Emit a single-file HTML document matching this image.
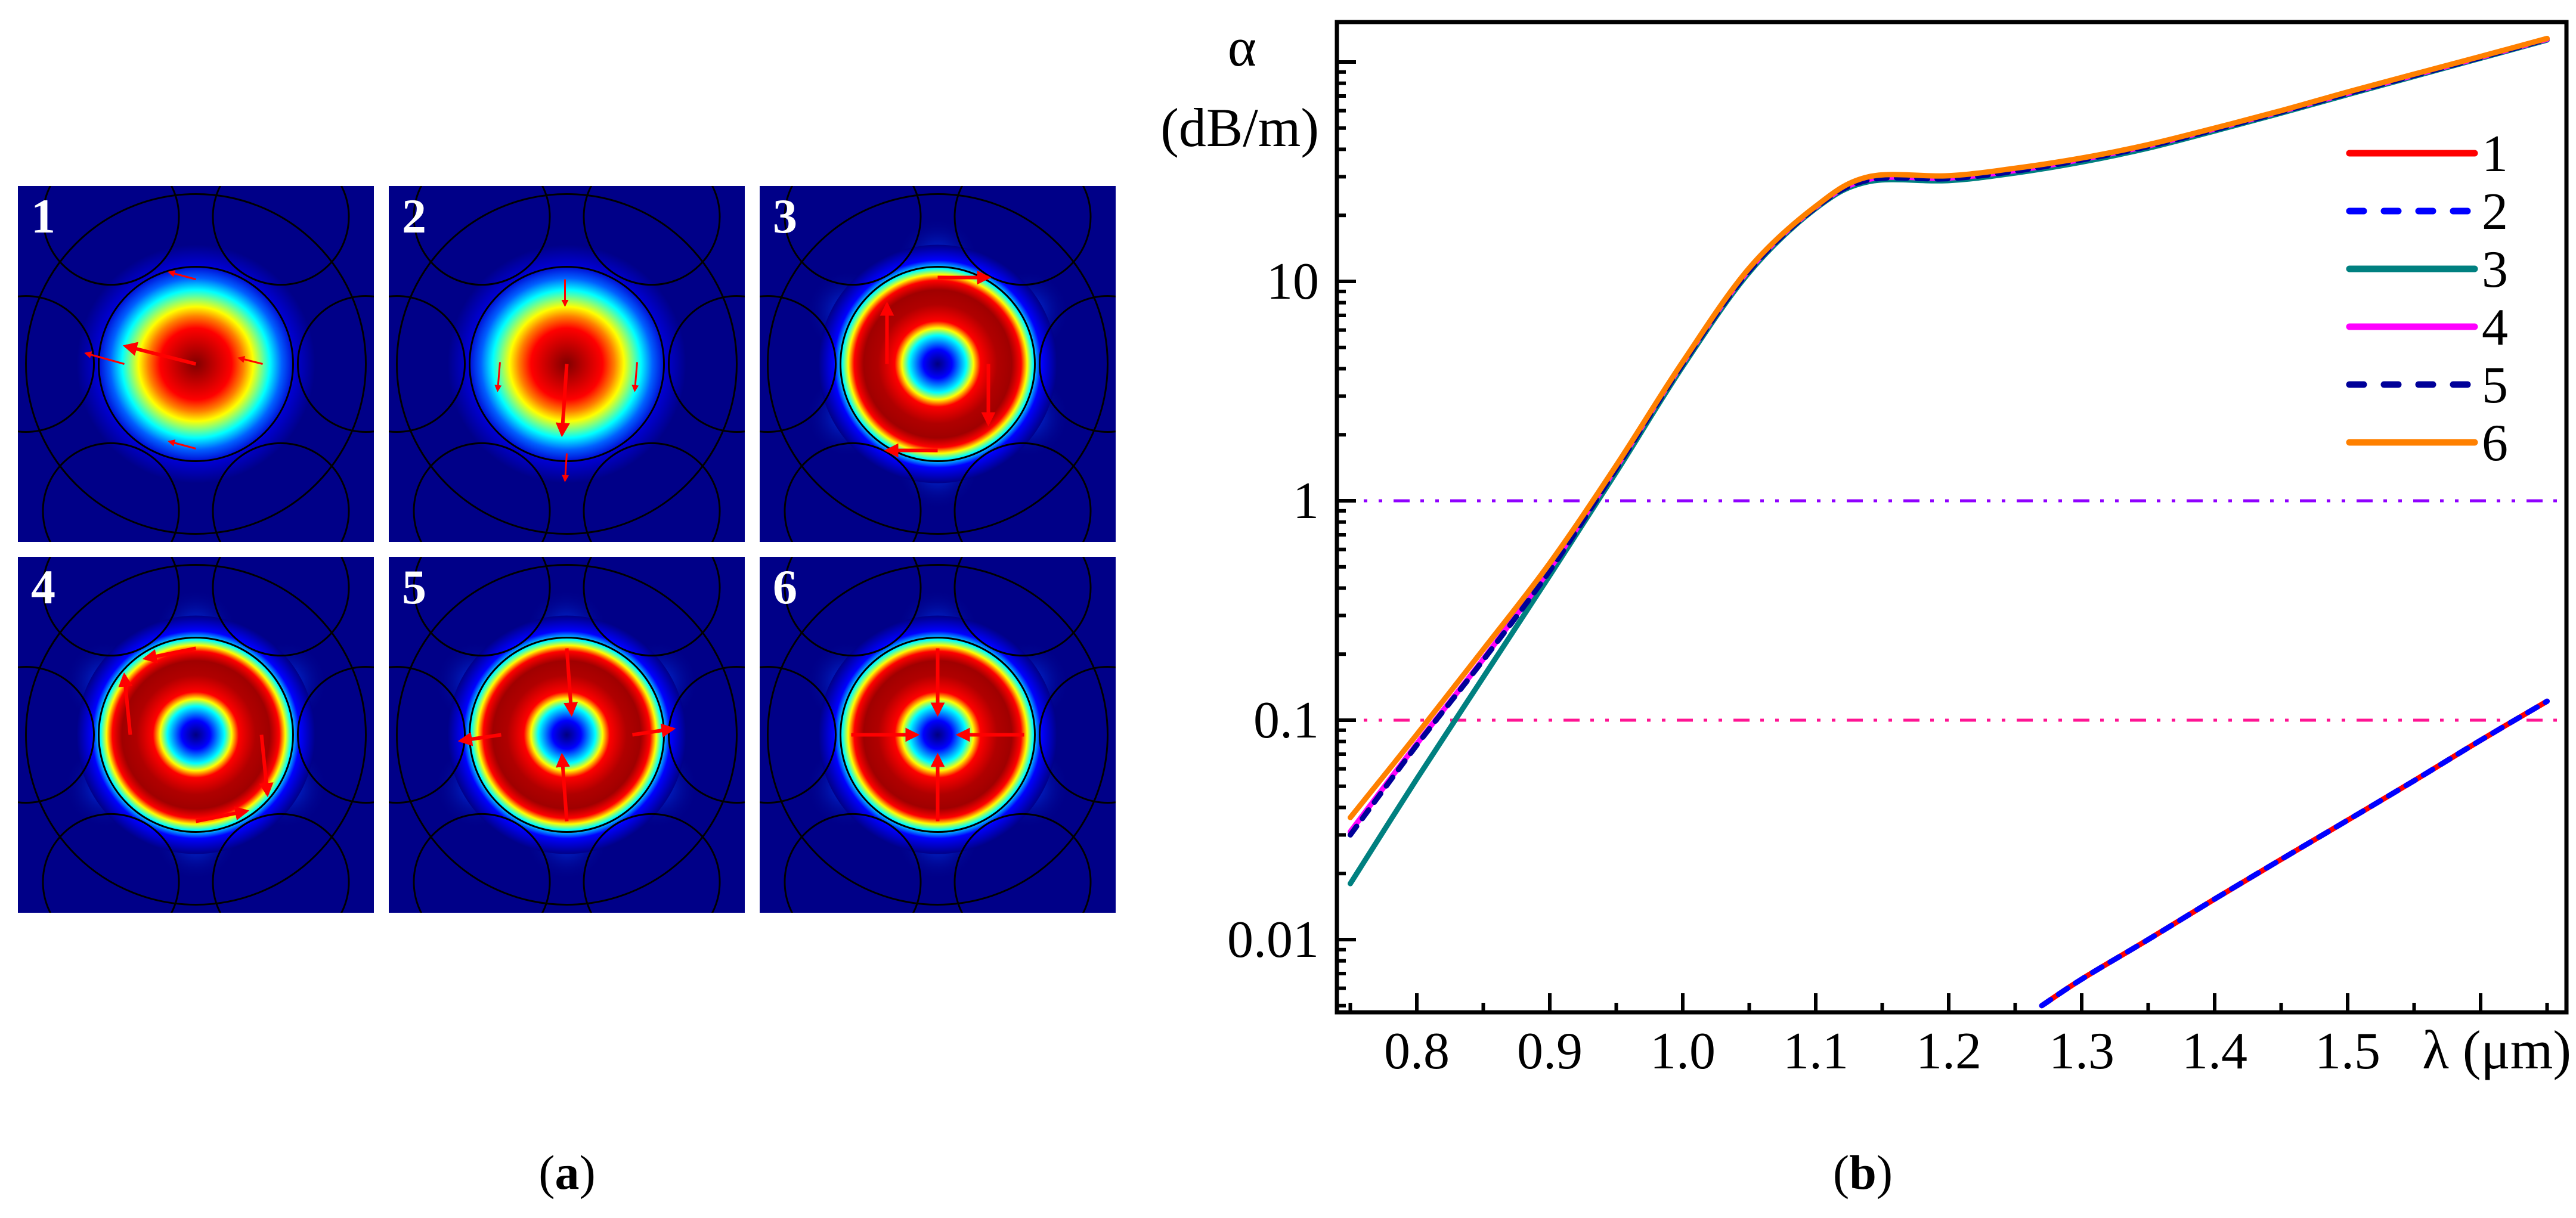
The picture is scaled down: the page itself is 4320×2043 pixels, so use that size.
<!DOCTYPE html>
<html><head><meta charset="utf-8">
<style>
html,body{margin:0;padding:0;background:#fff;}
svg{display:block;}
svg text{font-family:"Liberation Serif","Times New Roman",serif !important;}
</style></head>
<body>
<svg id="fig" width="4320" height="2043" viewBox="0 0 4320 2043" xmlns="http://www.w3.org/2000/svg">
<defs>
  <radialGradient id="gFund" cx="0.5" cy="0.5" r="0.5">
    <stop offset="0" stop-color="#800000"/>
    <stop offset="0.15" stop-color="#c00000"/>
    <stop offset="0.3" stop-color="#ff0000"/>
    <stop offset="0.4" stop-color="#ff8000"/>
    <stop offset="0.48" stop-color="#ffff00"/>
    <stop offset="0.55" stop-color="#80ff80"/>
    <stop offset="0.62" stop-color="#00ffff"/>
    <stop offset="0.72" stop-color="#0060ff"/>
    <stop offset="0.83" stop-color="#0000d0"/>
    <stop offset="1" stop-color="#000088"/>
  </radialGradient>
  <radialGradient id="gRing" cx="0.5" cy="0.5" r="0.5">
    <stop offset="0" stop-color="#000080"/>
    <stop offset="0.12" stop-color="#0000ff"/>
    <stop offset="0.24" stop-color="#00ffff"/>
    <stop offset="0.3" stop-color="#ffff00"/>
    <stop offset="0.36" stop-color="#ff0000"/>
    <stop offset="0.5" stop-color="#b00000"/>
    <stop offset="0.62" stop-color="#a00000"/>
    <stop offset="0.7" stop-color="#ff0000"/>
    <stop offset="0.75" stop-color="#ffff00"/>
    <stop offset="0.8" stop-color="#00ffff"/>
    <stop offset="0.87" stop-color="#0000ff"/>
    <stop offset="1" stop-color="#000088"/>
  </radialGradient>
  <radialGradient id="gLobe" cx="0.5" cy="0.5" r="0.5">
    <stop offset="0" stop-color="#0040ff" stop-opacity="0.9"/>
    <stop offset="1" stop-color="#000088" stop-opacity="0"/>
  </radialGradient>
  <marker id="ah" viewBox="0 0 10 10" refX="8" refY="5" markerWidth="4" markerHeight="4" orient="auto">
    <path d="M0,0 L10,5 L0,10 z" fill="#ff0000"/>
  </marker>
</defs>
<g id="panelsA"></g>
<g id="chartB"></g>
<text x="951" y="1994" font-size="82" text-anchor="middle">(<tspan font-weight="bold">a</tspan>)</text>
<text x="3124" y="1994" font-size="82" text-anchor="middle">(<tspan font-weight="bold">b</tspan>)</text>
</svg>
<script>
var NS="http://www.w3.org/2000/svg";
function mk(tag,attrs,parent){var e=document.createElementNS(NS,tag);for(var k in attrs)e.setAttribute(k,attrs[k]);if(tag==='text'){e.setAttribute('font-family','Liberation Serif, serif');e.style.fontFamily='"Liberation Serif", serif';}parent.appendChild(e);return e;}

/* ---------- Panel (a): mode field maps ---------- */
var panelModes=[1,2,3,4,5,6];
var panelX=[30,652,1274];
var panelY=[312,934];
var P=597;
var arrowsByMode={
 1:[[0,0,-118,-30,1],[-120,0,-185,-18,0],[112,0,72,-10,0],[0,-142,-45,-154,0],[0,142,-45,130,0]],
 2:[[0,0,-8,118,1],[-3,-142,-3,-98,0],[0,150,-3,196,0],[-112,-3,-116,45,0],[118,-3,114,45,0]],
 3:[[0,-145,85,-145,1],[85,0,85,100,1],[0,145,-85,145,1],[-85,0,-85,-100,1]],
 4:[[0,-145,-85,-128,1],[-110,0,-120,-100,1],[110,0,120,100,1],[0,145,85,128,1]],
 5:[[0,-145,8,-35,1],[0,145,-8,35,1],[-110,0,-178,10,1],[110,0,178,-10,1]],
 6:[[0,-145,0,-35,1],[0,145,0,35,1],[-145,0,-35,0,1],[145,0,35,0,1]]
};
var pa=document.getElementById('panelsA');
panelModes.forEach(function(m,i){
  var px=panelX[i%3], py=panelY[Math.floor(i/3)];
  var cx=px+P/2, cy=py+P/2;
  var g=mk('g',{},pa);
  
  
  var cp=mk('clipPath',{id:'clip'+m},g);
  mk('rect',{x:px,y:py,width:P,height:P},cp);
  var inner=mk('g',{'clip-path':'url(#clip'+m+')'},g);
  mk('rect',{x:px,y:py,width:P,height:P,fill:'#000088'},inner);
  if(m>=3){
    [30,90,150,210,270,330].forEach(function(a){
      var r=a*Math.PI/180;
      mk('ellipse',{cx:cx+175*Math.cos(r),cy:cy+175*Math.sin(r),rx:70,ry:70,fill:'url(#gLobe)'},inner);
    });
  }
  var field=mk('circle',{cx:cx,cy:cy,r:200,fill:m<3?'url(#gFund)':'url(#gRing)'},inner);
  
  
  for(var k=0;k<6;k++){
    var a=k*Math.PI/3;
    mk('circle',{cx:cx+285*Math.cos(a),cy:cy+285*Math.sin(a),r:114,fill:'none',stroke:'#000',"stroke-width":3},inner);
  }
  mk('circle',{cx:cx,cy:cy,r:285,fill:'none',stroke:'#000',"stroke-width":3},inner);
  mk('circle',{cx:cx,cy:cy,r:163,fill:'none',stroke:'#000',"stroke-width":3},inner);
  arrowsByMode[m].forEach(function(ar){
    var ln=mk('line',{x1:cx+ar[0],y1:cy+ar[1],x2:cx+ar[2],y2:cy+ar[3],stroke:'#ff0000',"stroke-width":ar[4]?6:3,"marker-end":'url(#ah)'},inner);
    
    
  });
  var lb=mk('text',{x:px+22,y:py+78,"font-size":82,"font-weight":"bold",fill:'#fff'},g);
  lb.textContent=String(m);
  
  
});

/* ---------- Panel (b): loss chart ---------- */
var lambdaA=[0.75,0.8,0.85,0.9,0.95,1.0,1.05,1.1,1.14,1.2,1.25,1.3,1.35,1.4,1.45,1.5,1.55,1.6,1.65];
var mode3=[0.018,0.054,0.157,0.457,1.35,4.1,11.0,21.5,28.5,28.8,31.2,35,40.5,48.5,58.5,71,86,104,126];
var mode4=[0.031,0.078,0.19,0.49,1.42,4.25,11.3,21.8,29.2,29.6,32,36,41.5,49.5,59.5,72,87,105,127];
var mode5=[0.030,0.077,0.188,0.48,1.4,4.2,11.2,21.7,29,29.4,31.8,35.8,41.2,49.2,59.2,71.8,86.8,104.8,127];
var mode6=[0.036,0.086,0.21,0.52,1.45,4.3,11.5,22,30,30.3,32.8,36.5,42,50,60,73,88,106,128];
var lambdaB=[1.27,1.3,1.35,1.4,1.45,1.5,1.55,1.6,1.65];
var mode1=[0.0050,0.0066,0.010,0.0153,0.0232,0.035,0.053,0.081,0.122];
var mode2=[0.0050,0.0066,0.010,0.0153,0.0232,0.035,0.053,0.081,0.122];
var refLevels=[1,0.1];
var xTickLabels=['0.8','0.9','1.0','1.1','1.2','1.3','1.4','1.5'];
var xTickValues=[0.8,0.9,1.0,1.1,1.2,1.3,1.4,1.5,1.6];
var yTickLabels=['10','1','0.1','0.01'];
var yTickValues=[10,1,0.1,0.01];
var legendLabels=['1','2','3','4','5','6'];

var FL=2242,FR=4304,FT=37,FB=1698;
function X(l){return 2376+(l-0.8)*2230;}
function Y(v){return 840-Math.log10(v)*368;}
var cb=document.getElementById('chartB');

function pathFrom(xs,ys){
  var pts=xs.map(function(l,i){return [X(l),Y(ys[i])];});
  var d='M'+pts[0][0].toFixed(1)+','+pts[0][1].toFixed(1);
  for(var i=0;i<pts.length-1;i++){
    var p0=pts[Math.max(0,i-1)],p1=pts[i],p2=pts[i+1],p3=pts[Math.min(pts.length-1,i+2)];
    var c1=[p1[0]+(p2[0]-p0[0])/6,p1[1]+(p2[1]-p0[1])/6];
    var c2=[p2[0]-(p3[0]-p1[0])/6,p2[1]-(p3[1]-p1[1])/6];
    d+=' C'+c1[0].toFixed(1)+','+c1[1].toFixed(1)+' '+c2[0].toFixed(1)+','+c2[1].toFixed(1)+' '+p2[0].toFixed(1)+','+p2[1].toFixed(1);
  }
  return d;
}
var cpb=mk('clipPath',{id:'plotclip'},cb);
mk('rect',{x:FL,y:FT,width:FR-FL,height:FB-FT},cpb);
var plot=mk('g',{'clip-path':'url(#plotclip)'},cb);

var refColors=['#9000ff','#ff1493'];
refLevels.forEach(function(v,i){
  var l=mk('line',{x1:FL,x2:FR,y1:Y(v),y2:Y(v),stroke:refColors[i],"stroke-width":5,"stroke-dasharray":"27 18 6 19 6 19"},plot);
  
  
});

var series=[
  {name:'mode-3',xs:lambdaA,ys:mode3,c:'#008080',dash:null},
  {name:'mode-4',xs:lambdaA,ys:mode4,c:'#ff00ff',dash:null},
  {name:'mode-5',xs:lambdaA,ys:mode5,c:'#000099',dash:'18 16'},
  {name:'mode-6',xs:lambdaA,ys:mode6,c:'#ff8000',dash:null},
  {name:'mode-1',xs:lambdaB,ys:mode1,c:'#ff0000',dash:null},
  {name:'mode-2',xs:lambdaB,ys:mode2,c:'#0000ff',dash:'18 16'}
];
series.forEach(function(s){
  var at={d:pathFrom(s.xs,s.ys),fill:'none',stroke:s.c,"stroke-width":9,"stroke-linecap":"round","stroke-linejoin":"round"};
  if(s.dash)at["stroke-dasharray"]=s.dash;
  var p=mk('path',at,plot);
  
  
});

var fr=mk('rect',{x:FL,y:FT,width:FR-FL,height:FB-FT,fill:'none',stroke:'#000',"stroke-width":7},cb);



var yax=mk('g',{},cb);


for(var e=-3;e<=2;e++){
  for(var k=1;k<10;k++){
    var v=k*Math.pow(10,e), y=Y(v);
    if(y<FT||y>FB)continue;
    mk('line',{x1:FL,x2:FL+(k===1?32:15),y1:y,y2:y,stroke:'#000',"stroke-width":6},yax);
  }
}
yTickValues.forEach(function(v,i){
  var t=mk('text',{x:2212,y:Y(v)+29,"font-size":88,"text-anchor":"end"},yax);
  t.textContent=yTickLabels[i];
  
  
});
var ya=mk('text',{x:2083,y:110,"font-size":92,"text-anchor":"middle"},yax);
ya.textContent='α';


var yu=mk('text',{x:2212,y:245,"font-size":92,"text-anchor":"end"},yax);
yu.textContent='(dB/m)';



var xax=mk('g',{},cb);


xTickValues.forEach(function(v){
  mk('line',{x1:X(v),x2:X(v),y1:FB,y2:FB-32,stroke:'#000',"stroke-width":6},xax);
  mk('line',{x1:X(v-0.05),x2:X(v-0.05),y1:FB,y2:FB-16,stroke:'#000',"stroke-width":6},xax);
});
mk('line',{x1:X(1.65),x2:X(1.65),y1:FB,y2:FB-16,stroke:'#000',"stroke-width":6},xax);
xTickLabels.forEach(function(s,i){
  var t=mk('text',{x:X(xTickValues[i]),y:1792,"font-size":88,"text-anchor":"middle"},xax);
  t.textContent=s;
  
  
});
var xt=mk('text',{x:4312,y:1792,"font-size":92,"text-anchor":"end"},xax);
xt.textContent='λ (μm)';



var lg=mk('g',{},cb);


var legColors=['#ff0000','#0000ff','#008080','#ff00ff','#000099','#ff8000'];
var legDash=[null,'24 34',null,null,'24 34',null];
legendLabels.forEach(function(s,i){
  var y=257+i*97;
  var e=mk('g',{},lg);
  
  
  var at={x1:3940,x2:4150,y1:y,y2:y,stroke:legColors[i],"stroke-width":11,"stroke-linecap":"round"};
  if(legDash[i])at["stroke-dasharray"]=legDash[i];
  mk('line',at,e);
  var t=mk('text',{x:4162,y:y+30,"font-size":88},e);
  t.textContent=s;
});
</script>
</body></html>
